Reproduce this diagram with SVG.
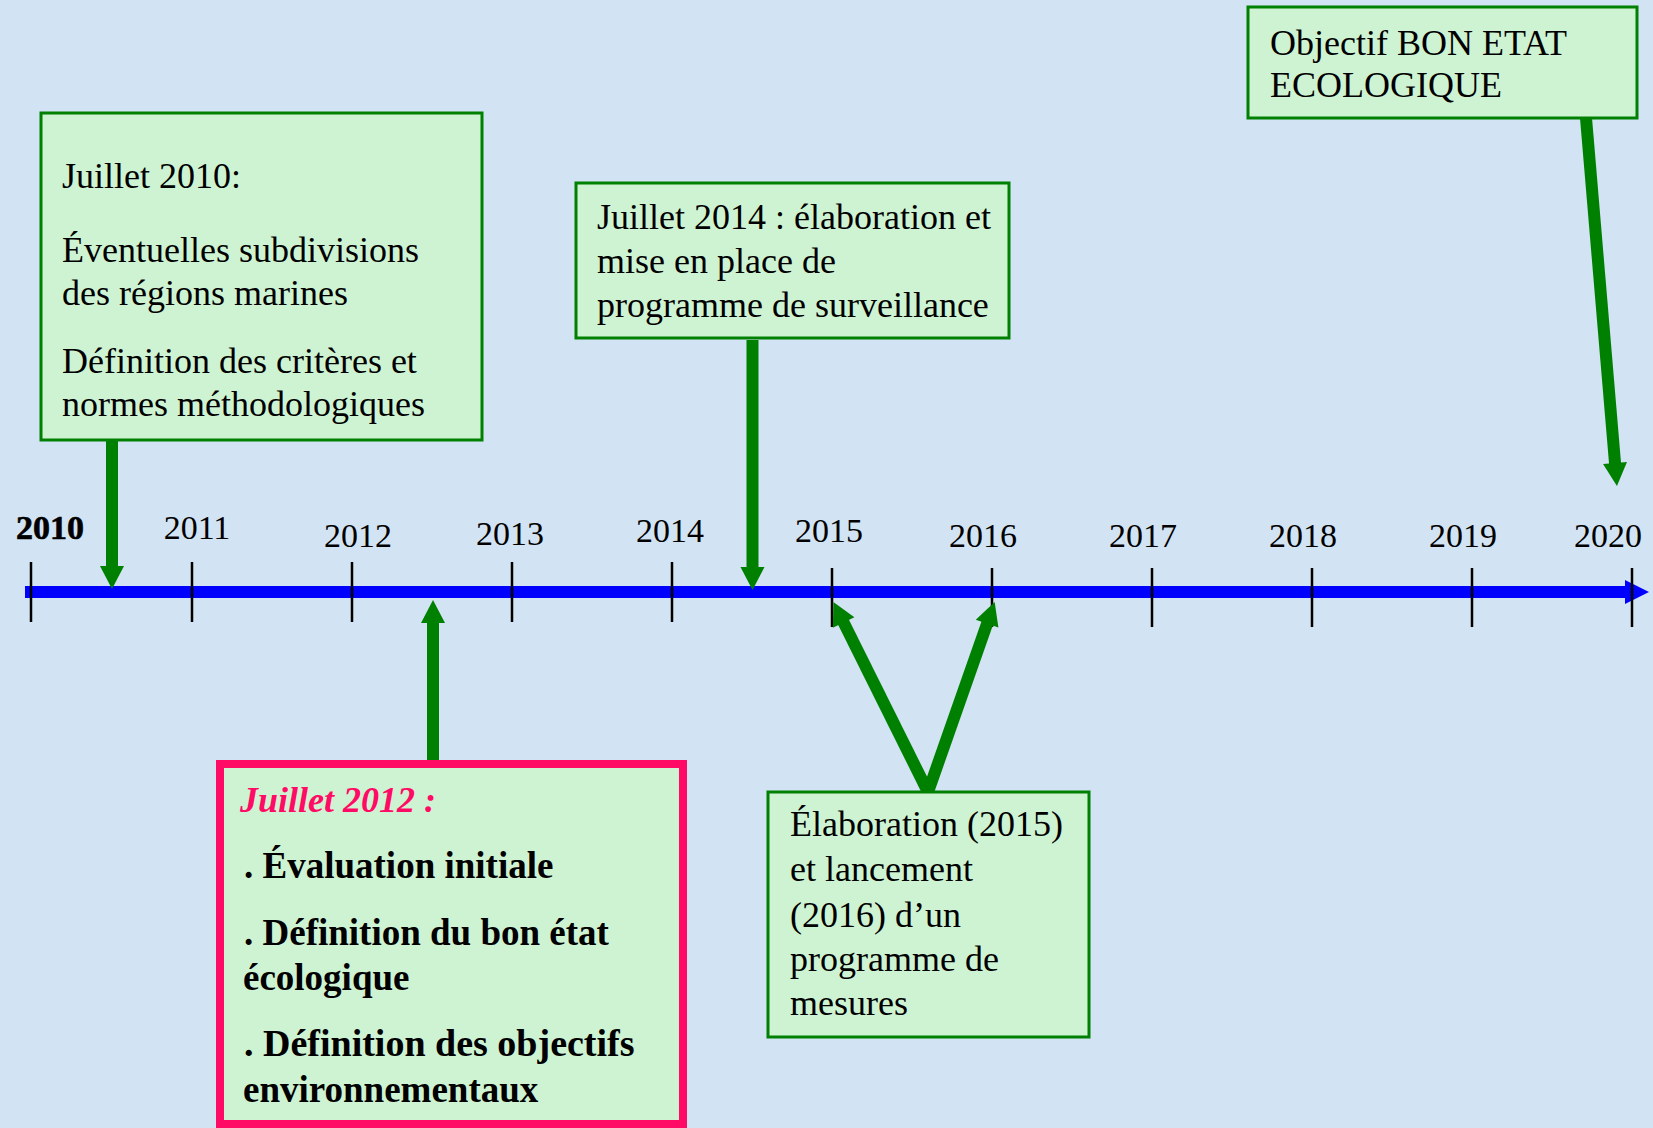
<svg xmlns="http://www.w3.org/2000/svg" width="1653" height="1128" viewBox="0 0 1653 1128">
<style>
.t{font-family:"Liberation Serif","Times New Roman",serif;font-size:36px;fill:#000}
.yr{font-family:"Liberation Serif","Times New Roman",serif;font-size:34px;fill:#000;text-anchor:middle}
.box{fill:#cef3d2;stroke:#008000;stroke-width:3}
.b{font-weight:bold;font-size:37px}
.tick{stroke:#000;stroke-width:2.5}
.ga{stroke:#008000;stroke-width:12;fill:none}
</style>
<defs>
<marker id="gh" markerUnits="userSpaceOnUse" markerWidth="26" markerHeight="26" refX="1" refY="12" orient="auto" overflow="visible">
<path d="M0,0 L23,12 L0,24 z" fill="#008000"/>
</marker>
</defs>
<rect x="0" y="0" width="1653" height="1128" fill="#d2e3f4"/>

<g id="timeline">
<line x1="25" y1="592" x2="1626" y2="592" stroke="#0000ff" stroke-width="12"/>
<path d="M1625,580 L1649,592 L1625,604 z" fill="#0000ff"/>
<g>
<line class="tick" x1="31" y1="562" x2="31" y2="622"/>
<line class="tick" x1="192" y1="562" x2="192" y2="622"/>
<line class="tick" x1="352" y1="562" x2="352" y2="622"/>
<line class="tick" x1="512" y1="562" x2="512" y2="622"/>
<line class="tick" x1="672" y1="562" x2="672" y2="622"/>
<line class="tick" x1="832" y1="568" x2="832" y2="627"/>
<line class="tick" x1="992" y1="568" x2="992" y2="627"/>
<line class="tick" x1="1152" y1="568" x2="1152" y2="627"/>
<line class="tick" x1="1312" y1="568" x2="1312" y2="627"/>
<line class="tick" x1="1472" y1="568" x2="1472" y2="627"/>
<line class="tick" x1="1632" y1="568" x2="1632" y2="627"/>
</g>
<g>
<text class="yr" x="50" y="539" font-size="34" font-weight="600" stroke="#000" stroke-width="0.6">2010</text>
<text class="yr" x="197" y="539">2011</text>
<text class="yr" x="358" y="547">2012</text>
<text class="yr" x="510" y="545">2013</text>
<text class="yr" x="670" y="542">2014</text>
<text class="yr" x="829" y="542">2015</text>
<text class="yr" x="983" y="547">2016</text>
<text class="yr" x="1143" y="547">2017</text>
<text class="yr" x="1303" y="547">2018</text>
<text class="yr" x="1463" y="547">2019</text>
<text class="yr" x="1608" y="547">2020</text>
</g>
</g>

<g id="connectors">
<line class="ga" x1="112" y1="440" x2="112" y2="567" marker-end="url(#gh)"/>
<line class="ga" x1="752.5" y1="340" x2="752.5" y2="568" marker-end="url(#gh)"/>
<line class="ga" x1="433" y1="760" x2="433" y2="622" marker-end="url(#gh)"/>
<line class="ga" x1="928" y1="792" x2="843.2" y2="621.6" marker-end="url(#gh)"/>
<line class="ga" x1="928" y1="792" x2="987.4" y2="622.7" marker-end="url(#gh)"/>
<line class="ga" x1="1586" y1="118" x2="1615.1" y2="464.1" marker-end="url(#gh)"/>
</g>

<g id="box2010">
<rect class="box" x="41" y="113" width="441" height="327"/>
<text class="t" x="62" y="188">Juillet 2010:</text>
<text class="t" x="62" y="262">Éventuelles subdivisions</text>
<text class="t" x="62" y="305">des régions marines</text>
<text class="t" x="62" y="373">Définition des critères et</text>
<text class="t" x="62" y="416" font-size="37">normes méthodologiques</text>
</g>

<g id="box2014">
<rect class="box" x="576" y="183" width="433" height="155"/>
<text class="t" x="597" y="229">Juillet 2014 : élaboration et</text>
<text class="t" x="597" y="273">mise en place de</text>
<text class="t" x="597" y="317">programme de surveillance</text>
</g>

<g id="box2020">
<rect class="box" x="1248" y="7" width="389" height="111"/>
<text class="t" x="1270" y="55" font-size="39">Objectif BON ETAT</text>
<text class="t" x="1270" y="97" font-size="39">ECOLOGIQUE</text>
</g>

<g id="box2015">
<rect class="box" x="768" y="792" width="321" height="245"/>
<text class="t" x="790" y="836">Élaboration (2015)</text>
<text class="t" x="790" y="881">et lancement</text>
<text class="t" x="790" y="927">(2016) d’un</text>
<text class="t" x="790" y="971">programme de</text>
<text class="t" x="790" y="1015">mesures</text>
</g>

<g id="box2012">
<rect x="220" y="764" width="463" height="360" fill="#cef3d2" stroke="#ff0a64" stroke-width="8"/>
<text class="t" x="240" y="812" font-weight="bold" font-style="italic" style="fill:#ff0a64">Juillet 2012 :</text>
<text class="t b" x="244" y="878">. Évaluation initiale</text>
<text class="t b" x="244" y="945">. Définition du bon état</text>
<text class="t b" x="243" y="990">écologique</text>
<text class="t b" x="244" y="1056" style="font-size:38px">. Définition des objectifs</text>
<text class="t b" x="243" y="1102">environnementaux</text>
</g>
</svg>
